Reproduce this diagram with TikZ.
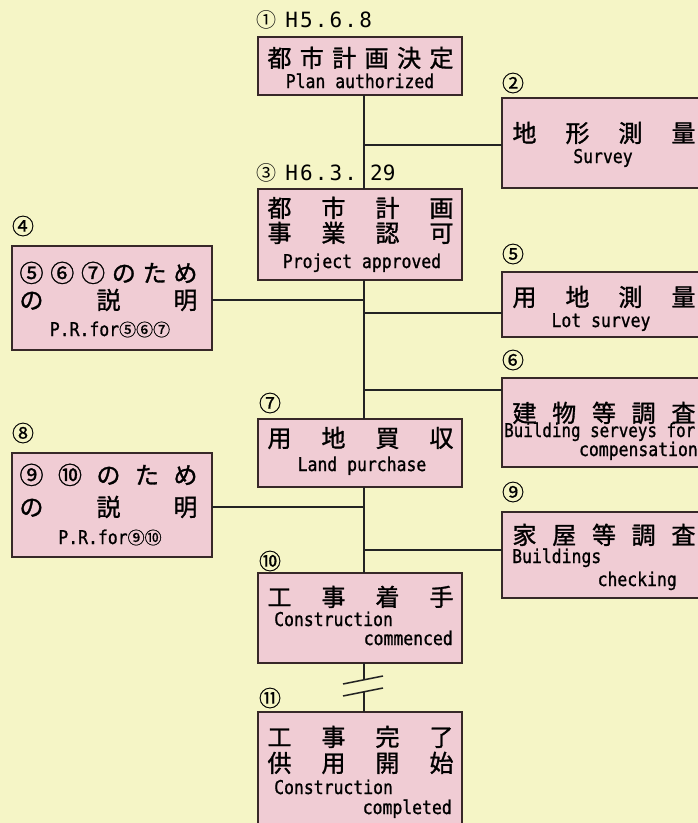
\documentclass[tikz,border=0pt]{standalone}
\usepackage{fontspec}
\newfontfamily\jp{Noto Sans CJK JP}
\newfontfamily\jpb[FakeBold=1.2]{Noto Sans CJK JP}
\newfontfamily\jpn[FakeBold=0.6]{Noto Sans CJK JP}
\newfontfamily\en[FakeStretch=0.865,FakeBold=1.0]{DejaVu Sans Mono}
\newfontfamily\enn[FakeStretch=0.835,FakeBold=1.0]{DejaVu Sans Mono}
\newfontfamily\lb{DejaVu Sans Mono}
\definecolor{bgcol}{RGB}{245,245,198}
\definecolor{pinkcol}{RGB}{240,204,212}
\definecolor{bordercol}{RGB}{55,40,40}
\definecolor{linecol}{RGB}{35,35,35}
\newcommand\jw[2]{\makebox[#1pt]{#2}}
\newcommand\cn[1]{{\jpn\fontsize{17}{17}\selectfont #1}}
\newcommand\pc[1]{\makebox[14.8pt]{#1}}
\begin{document}
\begin{tikzpicture}[x=1pt,y=-1pt,
  box/.style={draw=bordercol, line width=1.8pt, fill=pinkcol, inner sep=0pt, outer sep=0pt},
  jrow/.style={inner sep=0pt, font=\jpb\fontsize{24}{24}\selectfont, text height=21pt, text depth=3pt},
  erow/.style={inner sep=0pt, font=\en\fontsize{19}{19}\selectfont, text height=14pt, text depth=4pt},
  num/.style={inner sep=0pt, font=\jpn\fontsize{22}{22}\selectfont},
  datelab/.style={inner sep=0pt, anchor=west, font=\lb\fontsize{21}{21}\selectfont},
  conn/.style={line width=1.5pt, draw=linecol}]
\useasboundingbox (0,0) rectangle (698,823);
\clip (0,0) rectangle (698,823);
\fill[bgcol] (0,0) rectangle (698,823);

% trunk coordinates
\coordinate (tr) at (364,0);
\coordinate (j2) at (364,145);
\coordinate (j4) at (364,300);
\coordinate (j5) at (364,313);
\coordinate (j6) at (364,390);
\coordinate (j8) at (364,507);
\coordinate (j9) at (364,550);
\coordinate (k1) at (364,680);
\coordinate (k2) at (364,692);

% boxes
\node[box, minimum width=204pt, minimum height=58pt] (b1) at (360,66) {};
\node[box, minimum width=204pt, minimum height=90pt] (b2) at (604,143) {};
\node[box, minimum width=204pt, minimum height=91pt] (b3) at (360,234.5) {};
\node[box, minimum width=200pt, minimum height=104pt] (b4) at (112,298) {};
\node[box, minimum width=204pt, minimum height=65pt] (b5) at (604,304.5) {};
\node[box, minimum width=204pt, minimum height=89pt] (b6) at (604,422.5) {};
\node[box, minimum width=204pt, minimum height=68pt] (b7) at (360,453) {};
\node[box, minimum width=200pt, minimum height=104pt] (b8) at (112,505) {};
\node[box, minimum width=204pt, minimum height=86pt] (b9) at (604,555) {};
\node[box, minimum width=204pt, minimum height=90pt] (b10) at (360,618) {};
\node[box, minimum width=204pt, minimum height=118pt] (b11) at (360,771) {};

% connectors
\draw[conn] (b1.south -| tr) -- (b3.north -| tr);
\draw[conn] (b3.south -| tr) -- (b7.north -| tr);
\draw[conn] (b7.south -| tr) -- (b10.north -| tr);
\draw[conn] (b10.south -| tr) -- (k1);
\draw[conn] (k2) -- (b11.north -| tr);
\draw[conn] (k1) ++(-21,4) -- ++(40,-8);
\draw[conn] (k2) ++(-21,4) -- ++(40,-8);
\draw[conn] (j2) -- (j2 -| b2.west);
\draw[conn] (b4.east |- j4) -- (j4);
\draw[conn] (j5) -- (j5 -| b5.west);
\draw[conn] (j6) -- (j6 -| b6.west);
\draw[conn] (b8.east |- j8) -- (j8);
\draw[conn] (j9) -- (j9 -| b9.west);

% labels
\node[datelab] (d1) at (256,20) {{\jp\fontsize{20}{20}\selectfont ①}\hspace{8pt}\pc{H}\pc{5}\pc{.}\pc{6}\pc{.}\pc{8}};
\node[datelab] (d3) at (256,173) {{\jp\fontsize{20}{20}\selectfont ③}\hspace{8pt}\pc{H}\pc{6}\pc{.}\pc{3}\pc{.}\hspace{12pt}29};
\node[num] (n2) at (513,83) {②};
\node[num] (n4) at (23,226) {④};
\node[num] (n5) at (513,254) {⑤};
\node[num] (n6) at (513,360) {⑥};
\node[num] (n7) at (270,403) {⑦};
\node[num] (n8) at (23,433) {⑧};
\node[num] (n9) at (513,492) {⑨};
\node[num] (n10) at (270,561) {⑩};
\node[num] (n11) at (270,698) {⑪};

% box 1
\node[jrow] (t1a) at (360.5,58) {\jw{186}{都\hfill 市\hfill 計\hfill 画\hfill 決\hfill 定}};
\node[erow] (t1b) at (360,83) {Plan authorized};
% box 2
\node[jrow] (t2a) at (604,133) {\jw{183}{地\hfill 形\hfill 測\hfill 量}};
\node[erow] (t2b) at (603,158) {Survey};
% box 3
\node[jrow] (t3a) at (360.5,208) {\jw{186}{都\hfill 市\hfill 計\hfill 画}};
\node[jrow] (t3b) at (360.5,233) {\jw{186}{事\hfill 業\hfill 認\hfill 可}};
\node[erow] (t3c) at (362,263) {Project approved};
% box 4
\node[jrow] (t4a) at (108.5,273) {\jw{178}{⑤\hfill ⑥\hfill ⑦\hfill の\hfill た\hfill め}};
\node[jrow] (t4b) at (108.5,300) {\jw{178}{の\hfill 説\hfill 明}};
\node[erow] (t4c) at (110,331) {P.R.for\cn{⑤⑥⑦}};
% box 5
\node[jrow] (t5a) at (604,297) {\jw{183}{用\hfill 地\hfill 測\hfill 量}};
\node[erow] (t5b) at (601,322) {Lot survey};
% box 6
\node[jrow] (t6a) at (604,413) {\jw{183}{建\hfill 物\hfill 等\hfill 調\hfill 査}};
\node[erow, font=\enn\fontsize{19}{19}\selectfont, anchor=west] (t6b) at (504,432) {Building serveys for};
\node[erow, anchor=east] (t6c) at (698,451) {compensation};
% box 7
\node[jrow] (t7a) at (360.5,438) {\jw{186}{用\hfill 地\hfill 買\hfill 収}};
\node[erow] (t7b) at (362,466) {Land purchase};
% box 8
\node[jrow] (t8a) at (108.5,475) {\jw{178}{⑨\hfill ⑩\hfill の\hfill た\hfill め}};
\node[jrow] (t8b) at (108.5,507) {\jw{178}{の\hfill 説\hfill 明}};
\node[erow] (t8c) at (110,539) {P.R.for\cn{⑨⑩}};
% box 9
\node[jrow] (t9a) at (604,535) {\jw{183}{家\hfill 屋\hfill 等\hfill 調\hfill 査}};
\node[erow, anchor=west] (t9b) at (512,558) {Buildings};
\node[erow, anchor=east] (t9c) at (677,581) {checking};
% box 10
\node[jrow] (t10a) at (360.5,597) {\jw{186}{工\hfill 事\hfill 着\hfill 手}};
\node[erow, anchor=west] (t10b) at (274,621) {Construction};
\node[erow, anchor=east] (t10c) at (453,640) {commenced};
% box 11
\node[jrow] (t11a) at (360.5,737) {\jw{186}{工\hfill 事\hfill 完\hfill 了}};
\node[jrow] (t11b) at (360.5,763) {\jw{186}{供\hfill 用\hfill 開\hfill 始}};
\node[erow, anchor=west] (t11c) at (274,789) {Construction};
\node[erow, anchor=east] (t11d) at (452,809) {completed};
\end{tikzpicture}
\end{document}
